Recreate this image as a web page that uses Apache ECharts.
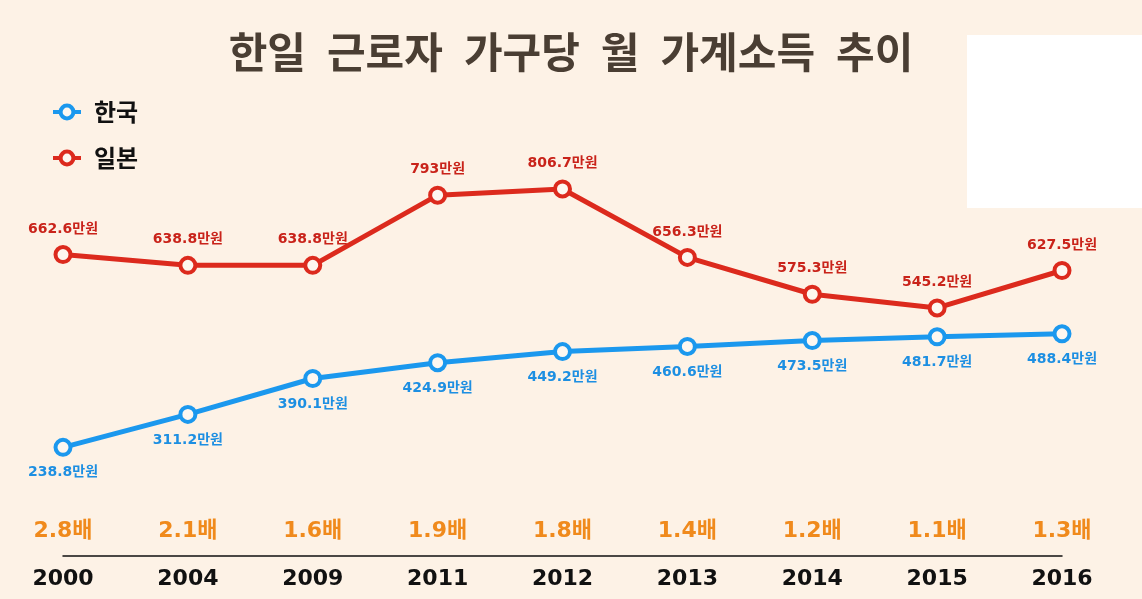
<!DOCTYPE html>
<html>
<head>
<meta charset="utf-8">
<script src="https://cdn.jsdelivr.net/npm/echarts@6/dist/echarts.min.js"></script>
<style>
  html, body { margin: 0; padding: 0; background: #fdf2e6; }
  #chart { width: 1142px; height: 599px; }
</style>
</head>
<body>
<div id="chart"></div>
<script>
// 연도, 소득(만원), 배율
const years = ['2000', '2004', '2009', '2011', '2012', '2013', '2014', '2015', '2016'];
const korea = [238.8, 311.2, 390.1, 424.9, 449.2, 460.6, 473.5, 481.7, 488.4];
const japan = [662.6, 638.8, 638.8, 793, 806.7, 656.3, 575.3, 545.2, 627.5];
const ratios = ['2.8배', '2.1배', '1.6배', '1.9배', '1.8배', '1.4배', '1.2배', '1.1배', '1.3배'];

const font = '"Noto Sans CJK KR", "Noto Sans", sans-serif';
const numFont = '"DejaVu Sans", "Noto Sans CJK KR", sans-serif';
const blue = '#1b98ee';
const red = '#dc2a1d';

const chart = echarts.init(document.getElementById('chart'));

chart.setOption({
  backgroundColor: '#fdf2e6',
  textStyle: { fontFamily: font },
  title: {
    text: '한일\u2002근로자\u2002가구당\u2002월\u2002가계소득\u2002추이',
    left: 'center',
    top: 26,
    textStyle: {
      fontFamily: font,
      fontSize: 42,
      fontWeight: 'bold',
      color: '#4a3e33'
    }
  },
  legend: {
    orient: 'vertical',
    left: 46,
    top: 95,
    itemWidth: 28,
    itemHeight: 16,
    itemGap: 22,
    itemStyle: { borderWidth: 4 },
    lineStyle: { width: 4 },
    textStyle: { fontSize: 24, fontWeight: 'bold', color: '#111', fontFamily: font, padding: [0, 0, 0, 8] },
    data: ['한국', '일본']
  },
  graphic: [{
    type: 'rect',
    shape: { x: 967, y: 35, width: 175, height: 173 },
    style: { fill: '#ffffff' }
  }],
  grid: { left: 63, right: 80, top: 101, bottom: 43 },
  xAxis: [{
    type: 'category',
    data: years,
    boundaryGap: false,
    axisLine: { lineStyle: { color: '#111', width: 1.5 } },
    axisTick: { show: false },
    axisLabel: { margin: 12, fontSize: 22, fontWeight: 'bold', color: '#111', fontFamily: numFont }
  }, {
    type: 'category',
    data: ratios,
    position: 'bottom',
    boundaryGap: false,
    axisLine: { show: false },
    axisTick: { show: false },
    axisLabel: { inside: true, margin: 14, fontSize: 22, fontWeight: 'bold', color: '#f08a1c', fontFamily: numFont }
  }],
  yAxis: {
    type: 'value',
    min: 0,
    max: 1000,
    show: false
  },
  series: [{
    name: '한국',
    type: 'line',
    data: korea,
    symbol: 'circle',
    symbolSize: 15,
    lineStyle: { width: 5, color: blue },
    itemStyle: { color: '#fdf7f0', borderColor: blue, borderWidth: 4 },
    label: {
      show: true,
      position: 'bottom',
      distance: 9,
      formatter: p => p.value + '만원',
      fontSize: 14,
      fontWeight: 'bold',
      color: '#1d8fe2',
      fontFamily: numFont
    },
    z: 3
  }, {
    name: '일본',
    type: 'line',
    data: japan,
    symbol: 'circle',
    symbolSize: 15,
    lineStyle: { width: 5, color: red },
    itemStyle: { color: '#fdf7f0', borderColor: red, borderWidth: 4 },
    label: {
      show: true,
      position: 'top',
      distance: 9,
      formatter: p => p.value + '만원',
      fontSize: 14,
      fontWeight: 'bold',
      color: '#c9231a',
      fontFamily: numFont
    },
    z: 3
  }]
});

window.addEventListener('resize', function () {
  chart.resize();
});
</script>
</body>
</html>
